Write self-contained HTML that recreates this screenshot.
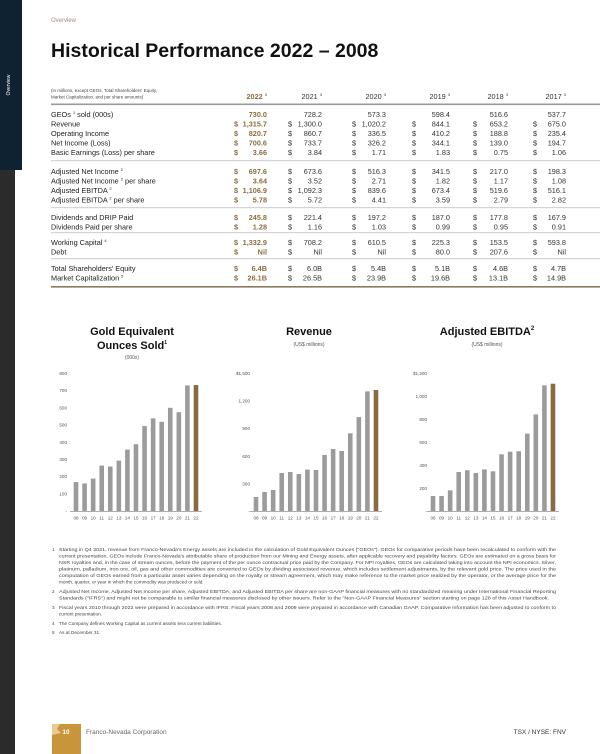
<!DOCTYPE html>
<html><head><meta charset="utf-8"><style>
html,body{margin:0;padding:0;background:#fff}
svg{display:block}
text{font-family:"Liberation Sans",sans-serif}
.l{font-size:7.3px;fill:#222}
.v{font-size:7.3px;fill:#333;text-anchor:end}
.g{font-size:7.3px;fill:#8b6d3f;font-weight:bold;text-anchor:end}
.d{font-size:7.3px;fill:#333}
.dg{font-size:7.3px;fill:#8b6d3f;font-weight:bold}
.yl{font-size:4.6px;fill:#555;text-anchor:end}
.xl{font-size:4.6px;fill:#555;text-anchor:middle}
.fn{font-size:4.7px;fill:#444}
.gb rect{fill:#9b9b9b}
</style></head><body>
<svg width="600" height="754" viewBox="0 0 600 754" xmlns="http://www.w3.org/2000/svg">
<rect x="0" y="0" width="15" height="754" fill="#2b2b2b"/>
<rect x="0" y="0" width="22" height="170" fill="#0f2231"/>
<text x="0" y="0" transform="translate(10,85) rotate(-90)" text-anchor="middle" style="font-size:5px;fill:#fff">Overview</text>

<text x="51" y="22" style="font-size:6px;fill:#a08e6e">Overview</text>
<text x="51" y="57" style="font-size:19.5px;font-weight:bold;fill:#111">Historical Performance 2022 – 2008</text>

<text x="51" y="92" style="font-size:4.5px;fill:#444">(in millions, except GEOs, Total Shareholders' Equity,</text>
<text x="51" y="98.5" style="font-size:4.5px;fill:#444">Market Capitalization, and per share amounts)</text>
<g style="font-size:7.3px" text-anchor="end">
<text x="267" y="99" style="fill:#8b6d3f;font-weight:bold">2022 <tspan style="font-size:4px" dy="-3">3</tspan></text>
<text x="322" y="99" fill="#333">2021 <tspan style="font-size:4px" dy="-3">3</tspan></text>
<text x="386" y="99" fill="#333">2020 <tspan style="font-size:4px" dy="-3">3</tspan></text>
<text x="450" y="99" fill="#333">2019 <tspan style="font-size:4px" dy="-3">3</tspan></text>
<text x="508" y="99" fill="#333">2018 <tspan style="font-size:4px" dy="-3">3</tspan></text>
<text x="566" y="99" fill="#333">2017 <tspan style="font-size:4px" dy="-3">3</tspan></text>
</g>
<rect x="51" y="103.5" width="549" height="1.6" fill="#9a9a9a"/>
<rect x="51" y="160.5" width="549" height="0.6" fill="#aaa"/>
<rect x="51" y="207.5" width="549" height="0.6" fill="#aaa"/>
<rect x="51" y="232.5" width="549" height="0.6" fill="#aaa"/>
<rect x="51" y="258.5" width="549" height="0.6" fill="#aaa"/>
<rect x="51" y="286" width="549" height="1.6" fill="#8a7a60"/>

<!-- labels -->
<text class="l" x="51" y="117">GEOs <tspan style="font-size:4px" dy="-3">1</tspan><tspan dy="3"> sold (000s)</tspan></text>
<text class="l" x="51" y="126.5">Revenue</text>
<text class="l" x="51" y="136">Operating Income</text>
<text class="l" x="51" y="145.5">Net Income (Loss)</text>
<text class="l" x="51" y="155">Basic Earnings (Loss) per share</text>
<text class="l" x="51" y="174">Adjusted Net Income <tspan style="font-size:4px" dy="-3">2</tspan></text>
<text class="l" x="51" y="183.5">Adjusted Net Income <tspan style="font-size:4px" dy="-3">2</tspan><tspan dy="3"> per share</tspan></text>
<text class="l" x="51" y="193">Adjusted EBITDA <tspan style="font-size:4px" dy="-3">2</tspan></text>
<text class="l" x="51" y="202.5">Adjusted EBITDA <tspan style="font-size:4px" dy="-3">2</tspan><tspan dy="3"> per share</tspan></text>
<text class="l" x="51" y="220">Dividends and DRIP Paid</text>
<text class="l" x="51" y="229.5">Dividends Paid per share</text>
<text class="l" x="51" y="245">Working Capital <tspan style="font-size:4px" dy="-3">4</tspan></text>
<text class="l" x="51" y="254.5">Debt</text>
<text class="l" x="51" y="271">Total Shareholders' Equity</text>
<text class="l" x="51" y="280.5">Market Capitalization <tspan style="font-size:4px" dy="-3">5</tspan></text>

<g>
<text class="g" x="267" y="117">730.0</text><text class="v" x="322" y="117">728.2</text><text class="v" x="386" y="117">573.3</text><text class="v" x="450" y="117">598.4</text><text class="v" x="508" y="117">516.6</text><text class="v" x="566" y="117">537.7</text>
</g>
<g>
<text class="dg" x="234" y="126.5">$</text><text class="dg" x="234" y="136">$</text><text class="dg" x="234" y="145.5">$</text><text class="dg" x="234" y="155">$</text>
<text class="dg" x="234" y="174">$</text><text class="dg" x="234" y="183.5">$</text><text class="dg" x="234" y="193">$</text><text class="dg" x="234" y="202.5">$</text>
<text class="dg" x="234" y="220">$</text><text class="dg" x="234" y="229.5">$</text><text class="dg" x="234" y="245">$</text><text class="dg" x="234" y="254.5">$</text>
<text class="dg" x="234" y="271">$</text><text class="dg" x="234" y="280.5">$</text>
</g>
<g class="d">
<text class="d" x="288" y="126.5">$</text><text class="d" x="352" y="126.5">$</text><text class="d" x="412" y="126.5">$</text><text class="d" x="473" y="126.5">$</text><text class="d" x="533" y="126.5">$</text>
<text class="d" x="288" y="136">$</text><text class="d" x="352" y="136">$</text><text class="d" x="412" y="136">$</text><text class="d" x="473" y="136">$</text><text class="d" x="533" y="136">$</text>
<text class="d" x="288" y="145.5">$</text><text class="d" x="352" y="145.5">$</text><text class="d" x="412" y="145.5">$</text><text class="d" x="473" y="145.5">$</text><text class="d" x="533" y="145.5">$</text>
<text class="d" x="288" y="155">$</text><text class="d" x="352" y="155">$</text><text class="d" x="412" y="155">$</text><text class="d" x="473" y="155">$</text><text class="d" x="533" y="155">$</text>
<text class="d" x="288" y="174">$</text><text class="d" x="352" y="174">$</text><text class="d" x="412" y="174">$</text><text class="d" x="473" y="174">$</text><text class="d" x="533" y="174">$</text>
<text class="d" x="288" y="183.5">$</text><text class="d" x="352" y="183.5">$</text><text class="d" x="412" y="183.5">$</text><text class="d" x="473" y="183.5">$</text><text class="d" x="533" y="183.5">$</text>
<text class="d" x="288" y="193">$</text><text class="d" x="352" y="193">$</text><text class="d" x="412" y="193">$</text><text class="d" x="473" y="193">$</text><text class="d" x="533" y="193">$</text>
<text class="d" x="288" y="202.5">$</text><text class="d" x="352" y="202.5">$</text><text class="d" x="412" y="202.5">$</text><text class="d" x="473" y="202.5">$</text><text class="d" x="533" y="202.5">$</text>
<text class="d" x="288" y="220">$</text><text class="d" x="352" y="220">$</text><text class="d" x="412" y="220">$</text><text class="d" x="473" y="220">$</text><text class="d" x="533" y="220">$</text>
<text class="d" x="288" y="229.5">$</text><text class="d" x="352" y="229.5">$</text><text class="d" x="412" y="229.5">$</text><text class="d" x="473" y="229.5">$</text><text class="d" x="533" y="229.5">$</text>
<text class="d" x="288" y="245">$</text><text class="d" x="352" y="245">$</text><text class="d" x="412" y="245">$</text><text class="d" x="473" y="245">$</text><text class="d" x="533" y="245">$</text>
<text class="d" x="288" y="254.5">$</text><text class="d" x="352" y="254.5">$</text><text class="d" x="412" y="254.5">$</text><text class="d" x="473" y="254.5">$</text><text class="d" x="533" y="254.5">$</text>
<text class="d" x="288" y="271">$</text><text class="d" x="352" y="271">$</text><text class="d" x="412" y="271">$</text><text class="d" x="473" y="271">$</text><text class="d" x="533" y="271">$</text>
<text class="d" x="288" y="280.5">$</text><text class="d" x="352" y="280.5">$</text><text class="d" x="412" y="280.5">$</text><text class="d" x="473" y="280.5">$</text><text class="d" x="533" y="280.5">$</text>
</g>
<g>
<text class="g" x="267" y="126.5">1,315.7</text><text class="v" x="322" y="126.5">1,300.0</text><text class="v" x="386" y="126.5">1,020.2</text><text class="v" x="450" y="126.5">844.1</text><text class="v" x="508" y="126.5">653.2</text><text class="v" x="566" y="126.5">675.0</text>
<text class="g" x="267" y="136">820.7</text><text class="v" x="322" y="136">860.7</text><text class="v" x="386" y="136">336.5</text><text class="v" x="450" y="136">410.2</text><text class="v" x="508" y="136">188.8</text><text class="v" x="566" y="136">235.4</text>
<text class="g" x="267" y="145.5">700.6</text><text class="v" x="322" y="145.5">733.7</text><text class="v" x="386" y="145.5">326.2</text><text class="v" x="450" y="145.5">344.1</text><text class="v" x="508" y="145.5">139.0</text><text class="v" x="566" y="145.5">194.7</text>
<text class="g" x="267" y="155">3.66</text><text class="v" x="322" y="155">3.84</text><text class="v" x="386" y="155">1.71</text><text class="v" x="450" y="155">1.83</text><text class="v" x="508" y="155">0.75</text><text class="v" x="566" y="155">1.06</text>
<text class="g" x="267" y="174">697.6</text><text class="v" x="322" y="174">673.6</text><text class="v" x="386" y="174">516.3</text><text class="v" x="450" y="174">341.5</text><text class="v" x="508" y="174">217.0</text><text class="v" x="566" y="174">198.3</text>
<text class="g" x="267" y="183.5">3.64</text><text class="v" x="322" y="183.5">3.52</text><text class="v" x="386" y="183.5">2.71</text><text class="v" x="450" y="183.5">1.82</text><text class="v" x="508" y="183.5">1.17</text><text class="v" x="566" y="183.5">1.08</text>
<text class="g" x="267" y="193">1,106.9</text><text class="v" x="322" y="193">1,092.3</text><text class="v" x="386" y="193">839.6</text><text class="v" x="450" y="193">673.4</text><text class="v" x="508" y="193">519.6</text><text class="v" x="566" y="193">516.1</text>
<text class="g" x="267" y="202.5">5.78</text><text class="v" x="322" y="202.5">5.72</text><text class="v" x="386" y="202.5">4.41</text><text class="v" x="450" y="202.5">3.59</text><text class="v" x="508" y="202.5">2.79</text><text class="v" x="566" y="202.5">2.82</text>
<text class="g" x="267" y="220">245.8</text><text class="v" x="322" y="220">221.4</text><text class="v" x="386" y="220">197.2</text><text class="v" x="450" y="220">187.0</text><text class="v" x="508" y="220">177.8</text><text class="v" x="566" y="220">167.9</text>
<text class="g" x="267" y="229.5">1.28</text><text class="v" x="322" y="229.5">1.16</text><text class="v" x="386" y="229.5">1.03</text><text class="v" x="450" y="229.5">0.99</text><text class="v" x="508" y="229.5">0.95</text><text class="v" x="566" y="229.5">0.91</text>
<text class="g" x="267" y="245">1,332.9</text><text class="v" x="322" y="245">708.2</text><text class="v" x="386" y="245">610.5</text><text class="v" x="450" y="245">225.3</text><text class="v" x="508" y="245">153.5</text><text class="v" x="566" y="245">593.8</text>
<text class="g" x="267" y="254.5">Nil</text><text class="v" x="322" y="254.5">Nil</text><text class="v" x="386" y="254.5">Nil</text><text class="v" x="450" y="254.5">80.0</text><text class="v" x="508" y="254.5">207.6</text><text class="v" x="566" y="254.5">Nil</text>
<text class="g" x="267" y="271">6.4B</text><text class="v" x="322" y="271">6.0B</text><text class="v" x="386" y="271">5.4B</text><text class="v" x="450" y="271">5.1B</text><text class="v" x="508" y="271">4.6B</text><text class="v" x="566" y="271">4.7B</text>
<text class="g" x="267" y="280.5">26.1B</text><text class="v" x="322" y="280.5">26.5B</text><text class="v" x="386" y="280.5">23.9B</text><text class="v" x="450" y="280.5">19.6B</text><text class="v" x="508" y="280.5">13.1B</text><text class="v" x="566" y="280.5">14.9B</text>
</g>

<g style="font-weight:bold;font-size:11px;fill:#111" text-anchor="middle">
<text x="132" y="335">Gold Equivalent</text>
<text x="132" y="349">Ounces Sold<tspan style="font-size:5px" dy="-5">1</tspan></text>
<text x="309" y="335">Revenue</text>
<text x="487" y="335">Adjusted EBITDA<tspan style="font-size:6px" dy="-5">2</tspan></text>
</g>
<g style="font-size:5px;fill:#555" text-anchor="middle">
<text x="132" y="359">(000s)</text>
<text x="309" y="346">(US$ millions)</text>
<text x="487" y="346">(US$ millions)</text>
</g>

<g>
<text class="yl" x="67" y="375">800</text><text class="yl" x="67" y="392">700</text><text class="yl" x="67" y="409.5">600</text><text class="yl" x="67" y="426.5">500</text><text class="yl" x="67" y="444">400</text><text class="yl" x="67" y="461">300</text><text class="yl" x="67" y="478">200</text><text class="yl" x="67" y="495.5">100</text><text class="yl" x="67" y="513">-</text>
</g>
<g transform="translate(76,0)">
<rect x="-6" y="511" width="132" height="0.6" fill="#777"/>
<g class="gb">
<rect x="-2.3" y="482" width="4.6" height="29"/>
<rect x="6.27" y="483.4" width="4.6" height="27.6"/>
<rect x="14.84" y="478.6" width="4.6" height="32.4"/>
<rect x="23.41" y="465.6" width="4.6" height="45.4"/>
<rect x="31.98" y="466.5" width="4.6" height="44.5"/>
<rect x="40.55" y="460.6" width="4.6" height="50.4"/>
<rect x="49.12" y="449.6" width="4.6" height="61.4"/>
<rect x="57.69" y="444.2" width="4.6" height="66.8"/>
<rect x="66.26" y="426.1" width="4.6" height="84.9"/>
<rect x="74.83" y="418.4" width="4.6" height="92.6"/>
<rect x="83.4" y="421.8" width="4.6" height="89.2"/>
<rect x="91.97" y="407.8" width="4.6" height="103.2"/>
<rect x="100.54" y="412.2" width="4.6" height="98.8"/>
<rect x="109.11" y="385.4" width="4.6" height="125.6"/>
</g>
<rect x="117.68" y="385.1" width="4.6" height="125.9" fill="#8a6a3e"/>
<g><text class="xl" x="0" y="519.5">08</text><text class="xl" x="8.57" y="519.5">09</text><text class="xl" x="17.14" y="519.5">10</text><text class="xl" x="25.71" y="519.5">11</text><text class="xl" x="34.28" y="519.5">12</text><text class="xl" x="42.85" y="519.5">13</text><text class="xl" x="51.42" y="519.5">14</text><text class="xl" x="59.99" y="519.5">15</text><text class="xl" x="68.56" y="519.5">16</text><text class="xl" x="77.13" y="519.5">17</text><text class="xl" x="85.7" y="519.5">18</text><text class="xl" x="94.27" y="519.5">19</text><text class="xl" x="102.84" y="519.5">20</text><text class="xl" x="111.41" y="519.5">21</text><text class="xl" x="119.98" y="519.5">22</text></g>
</g>

<g>
<text class="yl" x="250" y="375">$1,500</text><text class="yl" x="250" y="402.6">1,200</text><text class="yl" x="250" y="430.2">900</text><text class="yl" x="250" y="457.8">600</text><text class="yl" x="250" y="485.4">300</text><text class="yl" x="250" y="513">-</text>
</g>
<g transform="translate(256,0)">
<rect x="-6" y="511" width="132" height="0.6" fill="#777"/>
<g class="gb">
<rect x="-2.3" y="497" width="4.6" height="14"/>
<rect x="6.27" y="492" width="4.6" height="19"/>
<rect x="14.84" y="490" width="4.6" height="21"/>
<rect x="23.41" y="473" width="4.6" height="38"/>
<rect x="31.98" y="472" width="4.6" height="39"/>
<rect x="40.55" y="474" width="4.6" height="37"/>
<rect x="49.12" y="469.6" width="4.6" height="41.4"/>
<rect x="57.69" y="470" width="4.6" height="41"/>
<rect x="66.26" y="455" width="4.6" height="56"/>
<rect x="74.83" y="449" width="4.6" height="62"/>
<rect x="83.4" y="451" width="4.6" height="60"/>
<rect x="91.97" y="433.3" width="4.6" height="77.7"/>
<rect x="100.54" y="417.1" width="4.6" height="93.9"/>
<rect x="109.11" y="391.4" width="4.6" height="119.6"/>
</g>
<rect x="117.68" y="390" width="4.6" height="121" fill="#8a6a3e"/>
<g><text class="xl" x="0" y="519.5">08</text><text class="xl" x="8.57" y="519.5">09</text><text class="xl" x="17.14" y="519.5">10</text><text class="xl" x="25.71" y="519.5">11</text><text class="xl" x="34.28" y="519.5">12</text><text class="xl" x="42.85" y="519.5">13</text><text class="xl" x="51.42" y="519.5">14</text><text class="xl" x="59.99" y="519.5">15</text><text class="xl" x="68.56" y="519.5">16</text><text class="xl" x="77.13" y="519.5">17</text><text class="xl" x="85.7" y="519.5">18</text><text class="xl" x="94.27" y="519.5">19</text><text class="xl" x="102.84" y="519.5">20</text><text class="xl" x="111.41" y="519.5">21</text><text class="xl" x="119.98" y="519.5">22</text></g>
</g>

<g>
<text class="yl" x="427" y="375">$1,200</text><text class="yl" x="427" y="398">1,000</text><text class="yl" x="427" y="421">800</text><text class="yl" x="427" y="444">600</text><text class="yl" x="427" y="467">400</text><text class="yl" x="427" y="490">200</text><text class="yl" x="427" y="513">-</text>
</g>
<g transform="translate(433,0)">
<rect x="-6" y="511" width="132" height="0.6" fill="#777"/>
<g class="gb">
<rect x="-2.3" y="496" width="4.6" height="15"/>
<rect x="6.27" y="496" width="4.6" height="15"/>
<rect x="14.84" y="490.3" width="4.6" height="20.7"/>
<rect x="23.41" y="472" width="4.6" height="39"/>
<rect x="31.98" y="470.2" width="4.6" height="40.8"/>
<rect x="40.55" y="473" width="4.6" height="38"/>
<rect x="49.12" y="469.4" width="4.6" height="41.6"/>
<rect x="57.69" y="471.3" width="4.6" height="39.7"/>
<rect x="66.26" y="454.3" width="4.6" height="56.7"/>
<rect x="74.83" y="451.7" width="4.6" height="59.3"/>
<rect x="83.4" y="451.2" width="4.6" height="59.8"/>
<rect x="91.97" y="433.6" width="4.6" height="77.4"/>
<rect x="100.54" y="414.4" width="4.6" height="96.6"/>
<rect x="109.11" y="385.4" width="4.6" height="125.6"/>
</g>
<rect x="117.68" y="383.7" width="4.6" height="127.3" fill="#8a6a3e"/>
<g><text class="xl" x="0" y="519.5">08</text><text class="xl" x="8.57" y="519.5">09</text><text class="xl" x="17.14" y="519.5">10</text><text class="xl" x="25.71" y="519.5">11</text><text class="xl" x="34.28" y="519.5">12</text><text class="xl" x="42.85" y="519.5">13</text><text class="xl" x="51.42" y="519.5">14</text><text class="xl" x="59.99" y="519.5">15</text><text class="xl" x="68.56" y="519.5">16</text><text class="xl" x="77.13" y="519.5">17</text><text class="xl" x="85.7" y="519.5">18</text><text class="xl" x="94.27" y="519.5">19</text><text class="xl" x="102.84" y="519.5">20</text><text class="xl" x="111.41" y="519.5">21</text><text class="xl" x="119.98" y="519.5">22</text></g>
</g>

<g class="fn">
<text class="fn" x="52" y="551">1</text>
<text class="fn" x="59" y="551" textLength="497" lengthAdjust="spacingAndGlyphs">Starting in Q4 2021, revenue from Franco-Nevada's Energy assets are included in the calculation of Gold Equivalent Ounces ("GEOs"). GEOs for comparative periods have been recalculated to conform with the</text>
<text class="fn" x="59" y="557.5" textLength="497" lengthAdjust="spacingAndGlyphs">current presentation. GEOs include Franco-Nevada's attributable share of production from our Mining and Energy assets, after applicable recovery and payability factors. GEOs are estimated on a gross basis for</text>
<text class="fn" x="59" y="564" textLength="497" lengthAdjust="spacingAndGlyphs">NSR royalties and, in the case of stream ounces, before the payment of the per ounce contractual price paid by the Company. For NPI royalties, GEOs are calculated taking into account the NPI economics. Silver,</text>
<text class="fn" x="59" y="570.5" textLength="497" lengthAdjust="spacingAndGlyphs">platinum, palladium, iron ore, oil, gas and other commodities are converted to GEOs by dividing associated revenue, which includes settlement adjustments, by the relevant gold price. The price used in the</text>
<text class="fn" x="59" y="577" textLength="497" lengthAdjust="spacingAndGlyphs">computation of GEOs earned from a particular asset varies depending on the royalty or stream agreement, which may make reference to the market price realized by the operator, or the average price for the</text>
<text class="fn" x="59" y="583.5">month, quarter, or year in which the commodity was produced or sold.</text>
<text class="fn" x="52" y="593">2</text>
<text class="fn" x="59" y="593" textLength="497" lengthAdjust="spacingAndGlyphs">Adjusted Net Income, Adjusted Net Income per share, Adjusted EBITDA, and Adjusted EBITDA per share are non-GAAP financial measures with no standardized meaning under International Financial Reporting</text>
<text class="fn" x="59" y="599.5" textLength="490" lengthAdjust="spacingAndGlyphs">Standards ("IFRS") and might not be comparable to similar financial measures disclosed by other issuers. Refer to the "Non-GAAP Financial Measures" section starting on page 128 of this Asset Handbook.</text>
<text class="fn" x="52" y="609">3</text>
<text class="fn" x="59" y="609" textLength="497" lengthAdjust="spacingAndGlyphs">Fiscal years 2010 through 2022 were prepared in accordance with IFRS. Fiscal years 2008 and 2009 were prepared in accordance with Canadian GAAP. Comparative information has been adjusted to conform to</text>
<text class="fn" x="59" y="615.5">current presentation.</text>
<text class="fn" x="52" y="625">4</text>
<text class="fn" x="59" y="625">The Company defines Working Capital as current assets less current liabilities.</text>
<text class="fn" x="52" y="634">5</text>
<text class="fn" x="59" y="634">As at December 31.</text>
</g>

<rect x="52" y="724" width="29" height="30" fill="#c9953a"/>
<polygon points="52,724 60,724 57,729 61,733 52,735" fill="#f4e3b8" opacity="0.7"/>
<text x="66" y="734" text-anchor="middle" style="font-size:6.5px;font-weight:bold;fill:#fff">10</text>
<text x="86" y="734" style="font-size:6.5px;fill:#666">Franco-Nevada Corporation</text>
<text x="566" y="734" text-anchor="end" style="font-size:6.5px;fill:#333">TSX / NYSE: FNV</text>
</svg>
</body></html>
